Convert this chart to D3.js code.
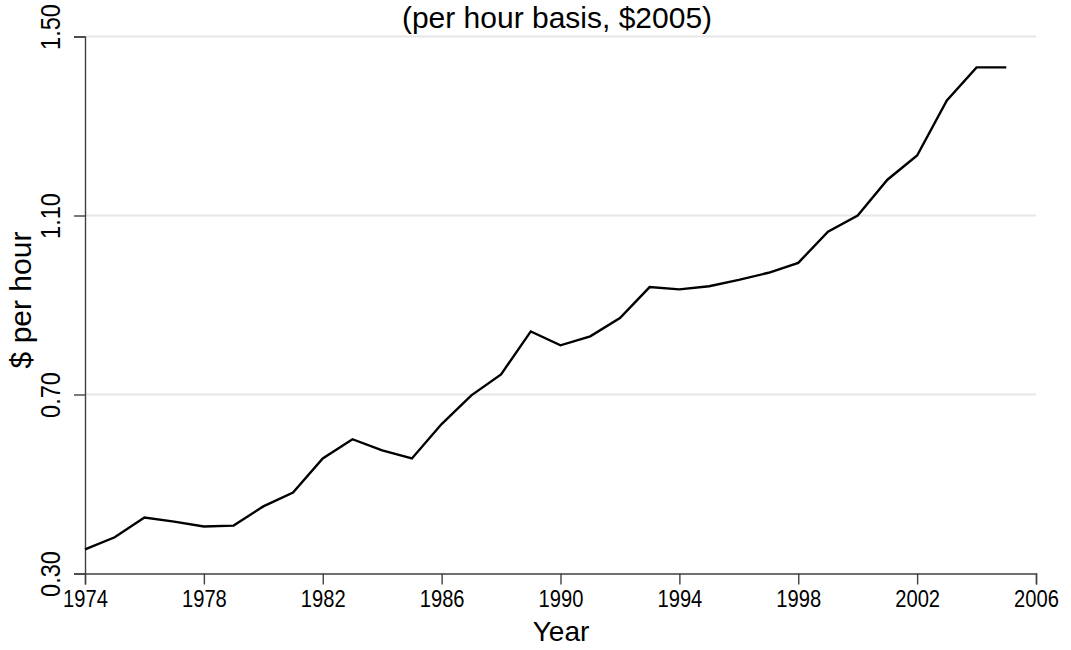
<!DOCTYPE html>
<html><head><meta charset="utf-8">
<script src="https://cdn.jsdelivr.net/npm/d3@7"></script>
<style>body{margin:0;background:#fff;} svg{display:block;font-family:"Liberation Sans",Arial,Helvetica,sans-serif;}</style>
</head><body><svg id="c" width="1071" height="650"></svg>
<script>
const years = [1974,1975,1976,1977,1978,1979,1980,1981,1982,1983,1984,1985,1986,1987,1988,1989,1990,1991,1992,1993,1994,1995,1996,1997,1998,1999,2000,2001,2002,2003,2004,2005];
const values = [0.354,0.381,0.425,0.416,0.405,0.407,0.450,0.481,0.557,0.600,0.575,0.557,0.634,0.698,0.745,0.841,0.810,0.830,0.871,0.940,0.935,0.942,0.956,0.972,0.994,1.064,1.100,1.180,1.234,1.357,1.431,1.431];
const xTickValues = [1974,1978,1982,1986,1990,1994,1998,2002,2006];
const yTickValues = [0.30,0.70,1.10,1.50];
const titleText = "(per hour basis, $2005)";
const xLabel = "Year";
const yLabel = "$ per hour";

const svg = d3.select("#c");
const x = d3.scaleLinear().domain([1974,2006]).range([85,1036]);
const y = d3.scaleLinear().domain([0.30,1.50]).range([573.5,36.5]);

// gridlines
svg.append("g").selectAll("line").data(yTickValues.filter(v=>v>0.3)).join("line")
  .attr("x1",x(1974)+1).attr("x2",x(2006)).attr("y1",d=>y(d)).attr("y2",d=>y(d))
  .attr("stroke","#e6e6e6").attr("stroke-width",2.2);

// y axis
const gy = svg.append("g").attr("transform",`translate(${x(1974)},0)`)
  .call(d3.axisLeft(y).tickValues(yTickValues).tickFormat(d3.format(".2f")).tickSizeOuter(0).tickSize(11));
gy.select(".domain").attr("stroke","#404040").attr("stroke-width",1.4);
gy.selectAll(".tick line").attr("stroke","#404040").attr("stroke-width",1.4);
gy.selectAll(".tick text").attr("x",null).attr("dy",null).attr("y",0)
  .attr("transform",d=>`translate(-25,${d===1.5?-10:0}) rotate(-90) scale(0.84,1)`).attr("text-anchor","middle")
  .attr("font-size",28).attr("fill","#000").attr("font-family",null);

// x axis
const gx = svg.append("g").attr("transform",`translate(0,${y(0.30)})`)
  .call(d3.axisBottom(x).tickValues(xTickValues).tickFormat(d3.format("d")).tickSizeOuter(0).tickSize(11));
gx.select(".domain").attr("stroke","#404040").attr("stroke-width",1.4);
gx.selectAll(".tick line").attr("stroke","#404040").attr("stroke-width",1.4);
gx.selectAll(".tick text").attr("dy",null).attr("y",33.5)
  .attr("transform","scale(0.84,1)")
  .attr("font-size",24).attr("fill","#000").attr("font-family",null);

// line
svg.append("path").datum(years.map((yr,i)=>[yr,values[i]]))
  .attr("fill","none").attr("stroke","#000").attr("stroke-width",2.4)
  .attr("d", d3.line().x(d=>x(d[0])).y(d=>y(d[1])));

// titles
svg.append("text").attr("x",557).attr("y",28).attr("text-anchor","middle")
  .attr("font-size",30).text(titleText);
svg.append("text").attr("x",561).attr("y",641).attr("text-anchor","middle")
  .attr("font-size",28).text(xLabel);
svg.append("text").attr("transform","translate(31,300) rotate(-90)").attr("text-anchor","middle")
  .attr("font-size",30).text(yLabel);
</script></body></html>
